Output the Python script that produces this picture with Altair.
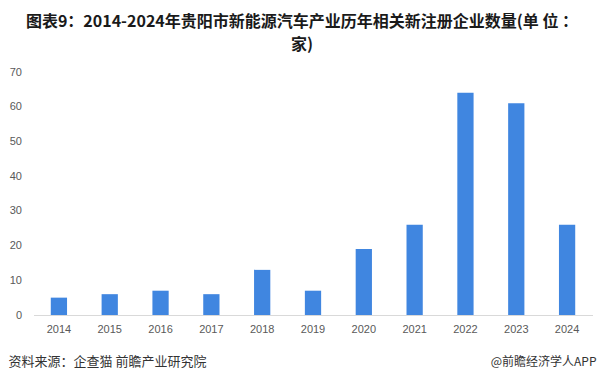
import altair as alt
import pandas as pd

years = ["2014", "2015", "2016", "2017", "2018", "2019", "2020", "2021", "2022", "2023", "2024"]
counts = [5, 6, 7, 6, 13, 7, 19, 26, 64, 61, 26]
y_ticks = [0, 10, 20, 30, 40, 50, 60, 70]

title_lines = ["图表9：2014-2024年贵阳市新能源汽车产业历年相关新注册企业数量(单 位 ：", "家)"]
source_text = "资料来源：企查猫 前瞻产业研究院"
brand_text = "@前瞻经济学人APP"

df = pd.DataFrame({"year": years, "count": counts})

W, H = 559, 243
CJK = "Noto Sans CJK SC"
NUM = "Liberation Sans"

bars = alt.Chart(df).mark_bar(color="#4086e0").encode(
    x=alt.X("year:N", sort=years, title=None,
            scale=alt.Scale(paddingInner=0.68, paddingOuter=0.34),
            axis=alt.Axis(labelAngle=0, labelFont=NUM, labelFontSize=11, labelColor="#595959",
                          domainColor="#d9d9d9", ticks=False, labelPadding=8)),
    y=alt.Y("count:Q", title=None,
            scale=alt.Scale(domain=[0, 70], nice=False),
            axis=alt.Axis(values=y_ticks, grid=False, domain=False, ticks=False,
                          labelFont=NUM, labelFontSize=11, labelColor="#595959", labelPadding=12)),
)

src = alt.Chart(pd.DataFrame({"t": [source_text]})).mark_text(
    align="left", baseline="middle", font=CJK, fontSize=13, color="#333333"
).encode(text="t:N", x=alt.value(-25), y=alt.value(H + 47))

brand = alt.Chart(pd.DataFrame({"t": [brand_text]})).mark_text(
    align="right", baseline="middle", font=CJK, fontSize=12, color="#333333"
).encode(text="t:N", x=alt.value(W + 4), y=alt.value(H + 47))

chart = alt.layer(bars, src, brand).properties(
    width=W, height=H,
    autosize=alt.AutoSizeParams(type="none"),
    padding={"left": 25.5, "top": 64, "right": 4.5, "bottom": 61},
    title=alt.TitleParams(title_lines, font=CJK, fontSize=16, fontWeight="bold",
                          color="#1a1a1a", anchor="middle", lineHeight=23, offset=13, dx=-11),
).configure_view(stroke=None)

chart.save("out.html", embed_options={"renderer": "svg", "actions": False})
